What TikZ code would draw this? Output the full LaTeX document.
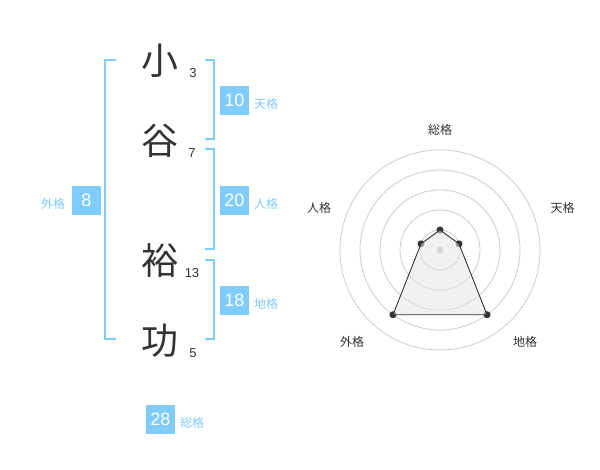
\documentclass[tikz,border=0pt]{standalone}
\usepackage{fontspec}
\setmainfont{Liberation Sans}
\newfontfamily\jp{Noto Sans CJK JP}
\definecolor{kaku}{HTML}{80CCFD}
\definecolor{ink}{HTML}{333333}
\tikzset{
  kanji/.style={font=\jp\fontsize{37}{37}\selectfont, text=ink, inner sep=0pt},
  strokes/.style={font=\fontsize{13}{13}\selectfont, text=ink, inner sep=0pt},
  numbox/.style={fill=kaku, text=white, minimum size=29pt, inner sep=0pt,
    font=\fontsize{18}{18}\selectfont},
  kakulabel/.style={font=\jp\fontsize{12}{12}\selectfont, text=kaku, inner sep=0pt, anchor=west},
  bracket/.style={draw=kaku, line width=2pt},
  axislabel/.style={font=\jp\fontsize{12}{12}\selectfont, text=ink, inner sep=0pt},
  ring/.style={draw=black!20, line width=0.8pt},
  dot/.style={circle, fill=ink, inner sep=0pt, minimum size=7pt},
}
\begin{document}
\begin{tikzpicture}[x=1pt,y=-1pt]
\useasboundingbox (0,0) rectangle (600,470);
% name, one character per row
\node[kanji] (k1) at (160,61) {小};
\node[kanji] (k2) at (160,141) {谷};
\node[kanji] (k3) at (160,261) {裕};
\node[kanji] (k4) at (160,341) {功};
\node[strokes] (s1) at (193,73) {3};
\node[strokes] (s2) at (192,153) {7};
\node[strokes] (s3) at (192,273) {13};
\node[strokes] (s4) at (193,353) {5};
% brackets
\draw[bracket] (116,60) -- (105,60) -- (105,339) -- (116,339);
\draw[bracket] (205,60) -- (214,60) -- (214,139) -- (205,139);
\draw[bracket] (205,149) -- (214,149) -- (214,249) -- (205,249);
\draw[bracket] (205,260) -- (214,260) -- (214,339) -- (205,339);
% scores
\node[numbox] (ten) at (234.5,100.5) {10};
\node[kakulabel] (tenl) at (254,104) {天格};
\node[numbox] (jin) at (234.5,200.5) {20};
\node[kakulabel] (jinl) at (254,204) {人格};
\node[numbox] (chi) at (234.5,300.5) {18};
\node[kakulabel] (chil) at (254,304) {地格};
\node[numbox] (gai) at (86.5,200.5) {8};
\node[kakulabel] (gail) at (41,204) {外格};
\node[numbox] (sou) at (160.5,419) {28};
\node[kakulabel] (soul) at (180,423) {総格};
% radar
\coordinate (c) at (440,250);
\foreach \r in {20,40,...,100}
  \draw[ring] (c) circle (\r pt);
\node[circle, fill=black!22, inner sep=0pt, minimum size=7pt] (mid) at (c) {};
\node[dot] (p1) at ([shift={(-90:20)}]c) {};
\node[dot] (p2) at ([shift={(-18:20)}]c) {};
\node[dot] (p3) at ([shift={(54:80)}]c) {};
\node[dot] (p4) at ([shift={(126:80)}]c) {};
\node[dot] (p5) at ([shift={(198:20)}]c) {};
\fill[black!10, fill opacity=0.55] (p1.center) -- (p2.center) -- (p3.center)
  -- (p4.center) -- (p5.center) -- cycle;
\draw[ink, line width=0.9pt] (p1.center) -- (p2.center) -- (p3.center)
  -- (p4.center) -- (p5.center) -- cycle;
\node[axislabel] (a1) at (440,130) {総格};
\node[axislabel] (a2) at (562.5,208) {天格};
\node[axislabel] (a3) at (525,342) {地格};
\node[axislabel] (a4) at (352,342) {外格};
\node[axislabel] (a5) at (319,208) {人格};
\end{tikzpicture}
\end{document}
